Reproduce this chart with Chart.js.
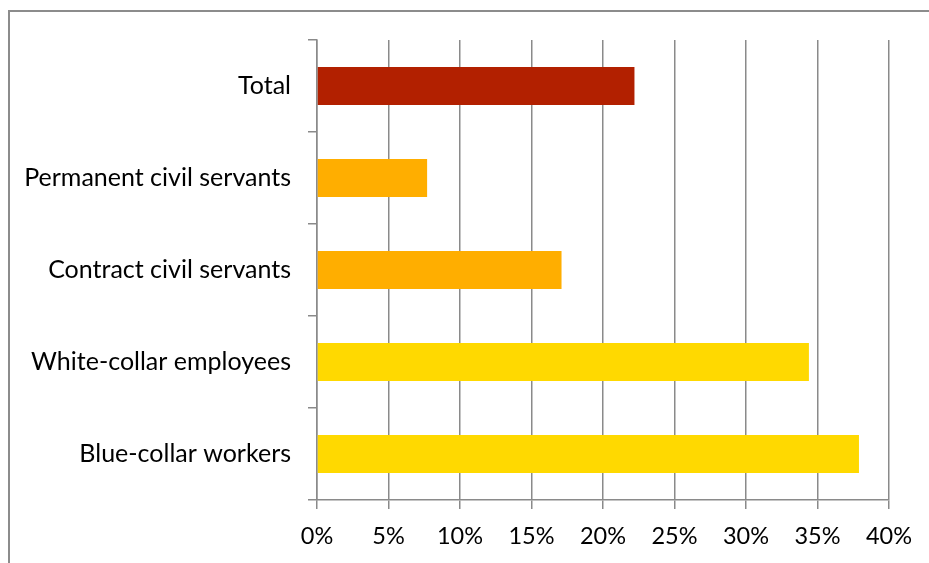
<!DOCTYPE html>
<html>
<head>
<meta charset="utf-8">
<script src="https://cdn.jsdelivr.net/npm/chart.js@4"></script>
<style>
    html, body { margin: 0; padding: 0; background: #fff; }
    #wrap { position: relative; width: 929px; height: 563px; }
</style>
</head>
<body>
<div id="wrap"><canvas id="shareChart"></canvas></div>
<script>
// Share by employment status
const categories = ['Total', 'Permanent civil servants', 'Contract civil servants', 'White-collar employees', 'Blue-collar workers'];
const shares = [22.2, 7.7, 17.1, 34.4, 37.9];
const barColors = ['#B22000', '#FFAE00', '#FFAE00', '#FFD900', '#FFD900'];
const xTicks = [0, 5, 10, 15, 20, 25, 30, 35, 40];

const axisGrey = '#8a8a8a';

// frame around the chart (left and top edges only show in the window)
const frame = {
    id: 'frame',
    beforeDraw(chart) {
        const ctx = chart.ctx;
        ctx.save();
        ctx.strokeStyle = '#8c8c8c';
        ctx.lineWidth = 2;
        ctx.beginPath();
        ctx.moveTo(9, 563);
        ctx.lineTo(9, 11);
        ctx.lineTo(929, 11);
        ctx.stroke();
        ctx.restore();
    }
};

const ctx = document.getElementById('shareChart').getContext('2d');
new Chart(ctx, {
    type: 'bar',
    data: {
        labels: categories,
        datasets: [{
            data: shares,
            backgroundColor: barColors,
            borderWidth: 0,
            barPercentage: 0.413,
            categoryPercentage: 1
        }]
    },
    options: {
        indexAxis: 'y',
        responsive: true,
        maintainAspectRatio: false,
        animation: false,
        layout: { padding: { top: 40, right: 40, left: 0, bottom: 0 } },
        plugins: {
            legend: { display: false },
            tooltip: { enabled: false }
        },
        scales: {
            x: {
                min: 0,
                max: 40,
                afterBuildTicks(scale) {
                    scale.ticks = xTicks.map(v => ({ value: v }));
                },
                afterFit(scale) { scale.height = 63; },
                grid: {
                    color: axisGrey,
                    lineWidth: 1.5,
                    drawTicks: true,
                    tickLength: 9
                },
                border: { color: axisGrey, width: 1.5 },
                ticks: {
                    color: '#000',
                    padding: 13,
                    font: { family: 'Lato', size: 23.5 },
                    callback: v => v + '%'
                }
            },
            y: {
                afterFit(scale) { scale.width = 317; },
                grid: {
                    offset: true,
                    drawOnChartArea: false,
                    color: axisGrey,
                    lineWidth: 1.5,
                    tickLength: 9
                },
                border: { color: axisGrey, width: 1.5 },
                ticks: {
                    color: '#000',
                    padding: 17,
                    font: { family: 'Lato', size: 25 }
                }
            }
        }
    },
    plugins: [frame]
});
</script>
</body>
</html>
